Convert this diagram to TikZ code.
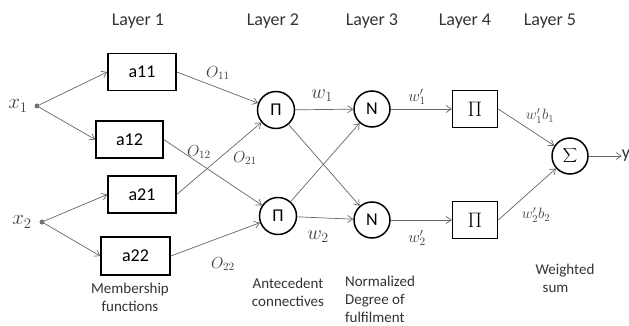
\RequirePackage{fix-cm}
\documentclass[tikz,border=0pt]{standalone}
\usepackage{fontspec}
\setmainfont{Carlito}
\usetikzlibrary{arrows.meta}
\tikzset{
  lay/.style={font=\fontsize{18}{20}\selectfont, text=black!80, inner sep=0pt},
  captext/.style={font=\fontsize{15}{18}\selectfont, text=black!80, inner sep=0pt},
  mf/.style={draw=black, line width=1.5pt, minimum width=68pt, minimum height=37pt, inner sep=0pt, font=\fontsize{18}{20}\selectfont},
  cnode/.style={draw=black, line width=1.5pt, circle, minimum size=37pt, inner sep=0pt, font=\fontsize{18}{20}\selectfont},
  pbox/.style={draw=black, line width=1.5pt, minimum width=45pt, minimum height=37pt, inner sep=0pt, font=\fontsize{21}{22}\selectfont},
  conn/.style={draw=black!60, line width=0.7pt, -{Straight Barb[length=5pt,width=7pt]}},
  ml/.style={inner sep=0pt, text=black!75, font=\fontsize{16}{18}\selectfont},
  dot/.style={circle, fill=black!55, inner sep=0pt, minimum size=5pt},
}
\begin{document}
\begin{tikzpicture}[x=1pt,y=-1pt]
\useasboundingbox (0,0) rectangle (629,326);
% titles
\node[lay] (L1) at (138,21) {Layer 1};
\node[lay] (L2) at (273,21) {Layer 2};
\node[lay] (L3) at (372,21) {Layer 3};
\node[lay] (L4) at (465,21) {Layer 4};
\node[lay] (L5) at (550,21) {Layer 5};
% inputs
\node[dot] (x1) at (37,106) {};
\node[dot] (x2) at (42,222) {};
\node[inner sep=0pt, text=black!75, font=\fontsize{21}{22}\selectfont] (x1l) at (18,106) {$x_1$};
\node[inner sep=0pt, text=black!75, font=\fontsize{21}{22}\selectfont] (x2l) at (22,222) {$x_2$};
% layer 1
\node[mf] (a11) at (142,72) {a11};
\node[mf, minimum width=67pt] (a12) at (129.5,139.5) {a12};
\node[mf] (a21) at (142,194.5) {a21};
\node[mf, minimum width=69pt, minimum height=38pt] (a22) at (135.5,256) {a22};
% layer 2
\node[cnode] (P1) at (276,110) {Π};
\node[cnode] (P2) at (278,216) {Π};
% layer 3
\node[cnode, minimum size=36pt] (N1) at (372,109) {N};
\node[cnode, minimum size=36pt] (N2) at (372,220) {N};
% layer 4
\node[pbox] (B1) at (475,109) {$\Pi$};
\node[pbox] (B2) at (475,220) {$\Pi$};
% layer 5
\node[cnode, minimum size=36pt, font=\fontsize{18}{20}\selectfont] (S) at (570,156) {$\displaystyle\sum$};
\node[lay] (y) at (626,156) {y};
% connectors
\draw[conn] (x1) -- (a11.west);
\draw[conn] (x1) -- (a12.west);
\draw[conn] (x2) -- (a21.west);
\draw[conn] (x2) -- (a22.west);
\draw[conn] (a11.east) -- (P1);
\draw[conn] (a21.east) -- (P1);
\draw[conn] (a12.east) -- (P2);
\draw[conn] (a22.east) -- (P2);
\draw[conn] (P1) -- (N1);
\draw[conn] (P1) -- (N2);
\draw[conn] (P2) -- (N1);
\draw[conn] (P2) -- (N2);
\draw[conn] (N1) -- (B1);
\draw[conn] (N2) -- (B2);
\draw[conn] (B1.east) -- (S);
\draw[conn] (B2.east) -- (S);
\draw[conn] (S) -- (y);
% labels
\node[ml] (o11) at (218,73) {$O_{11}$};
\node[ml] (o12) at (199,152) {$O_{12}$};
\node[ml] (o21) at (245,158) {$O_{21}$};
\node[ml] (o22) at (223,264) {$O_{22}$};
\node[ml, font=\fontsize{20}{22}\selectfont] (w1) at (322,96) {$w_1$};
\node[ml, font=\fontsize{20}{22}\selectfont] (w2) at (318,237) {$w_2$};
\node[ml] (w1p) at (417,97) {$w_1'$};
\node[ml] (w2p) at (417,238) {$w_2'$};
\node[ml, font=\fontsize{15}{16}\selectfont] (wb1) at (540,116) {$w_1'b_1$};
\node[ml, font=\fontsize{15}{16}\selectfont] (wb2) at (536,215) {$w_2'b_2$};
% captions
\node[captext, align=center] (c1) at (130,297) {Membership\\functions};
\node[captext, align=center] (c2) at (288,292.5) {Antecedent\\connectives};
\node[captext, align=left] (c3) at (380,299) {Normalized\\Degree of\\fulfilment};
\node[captext, align=left] (c5) at (565,278.5) {Weighted\\\hspace*{7pt}sum};
\end{tikzpicture}
\end{document}
